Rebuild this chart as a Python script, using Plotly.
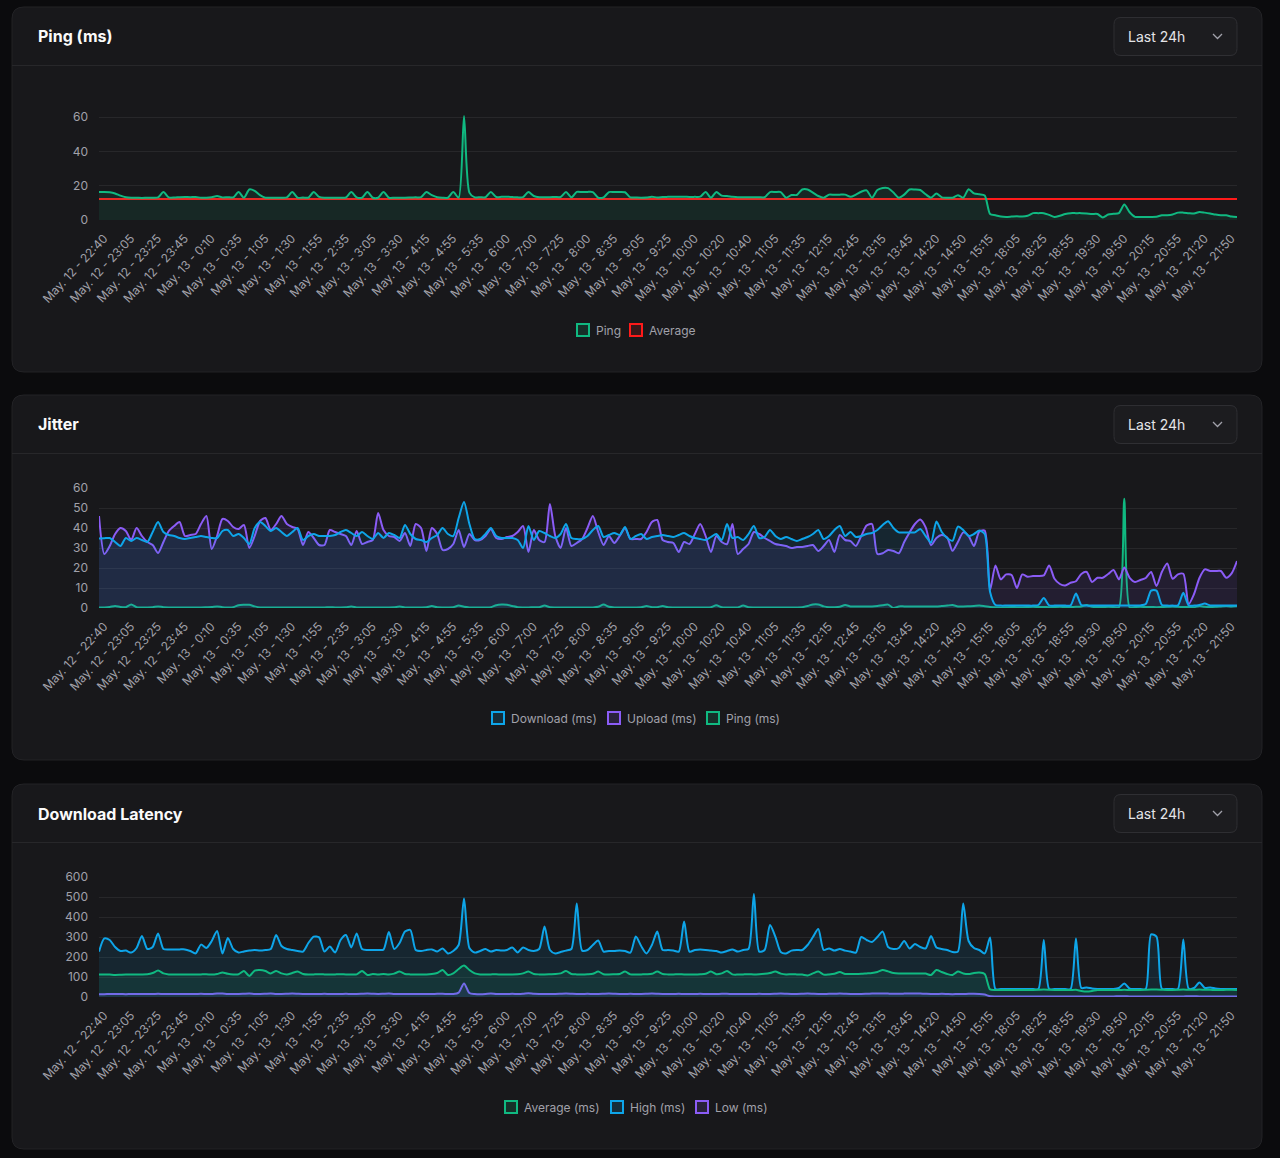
"""
Speedtest dashboard panels: ping, jitter and download latency over the last 24h
"""

import plotly.graph_objects as go

W, H = 1280, 1158

# x axis labels, one every LABEL_STEP measurements
TIME_LABELS = [
    "May. 12 - 22:40", "May. 12 - 23:05", "May. 12 - 23:25", "May. 12 - 23:45",
    "May. 13 - 0:10", "May. 13 - 0:35", "May. 13 - 1:05", "May. 13 - 1:30",
    "May. 13 - 1:55", "May. 13 - 2:35", "May. 13 - 3:05", "May. 13 - 3:30",
    "May. 13 - 4:15", "May. 13 - 4:55", "May. 13 - 5:35", "May. 13 - 6:00",
    "May. 13 - 7:00", "May. 13 - 7:25", "May. 13 - 8:00", "May. 13 - 8:35",
    "May. 13 - 9:05", "May. 13 - 9:25", "May. 13 - 10:00", "May. 13 - 10:20",
    "May. 13 - 10:40", "May. 13 - 11:05", "May. 13 - 11:35", "May. 13 - 12:15",
    "May. 13 - 12:45", "May. 13 - 13:15", "May. 13 - 13:45", "May. 13 - 14:20",
    "May. 13 - 14:50", "May. 13 - 15:15", "May. 13 - 18:05", "May. 13 - 18:25",
    "May. 13 - 18:55", "May. 13 - 19:30", "May. 13 - 19:50", "May. 13 - 20:15",
    "May. 13 - 20:55", "May. 13 - 21:20", "May. 13 - 21:50",
]
LABEL_STEP = 5

PING_MS = [
    16.3, 16.4, 16.2, 15.5, 14.2, 13.3, 13.0, 13.0, 12.9, 13.0,
    13.0, 13.2, 16.3, 13.2, 13.1, 13.3, 13.4, 13.3, 13.4, 13.0,
    13.0, 13.3, 14.0, 13.2, 13.3, 13.2, 16.3, 13.0, 17.8, 17.0,
    14.5, 13.0, 13.0, 13.0, 13.0, 13.2, 16.3, 13.0, 13.1, 13.0,
    16.3, 13.5, 13.0, 13.0, 13.0, 13.0, 13.1, 16.3, 13.2, 13.0,
    16.3, 13.0, 13.0, 16.3, 13.0, 13.0, 13.0, 13.0, 13.1, 13.2,
    13.3, 16.3, 14.5, 13.3, 13.0, 13.0, 16.3, 13.0, 60.7, 16.0,
    13.2, 13.3, 13.3, 16.3, 13.4, 13.5, 13.6, 13.4, 13.2, 13.3,
    16.3, 14.0, 13.3, 13.3, 13.3, 13.4, 13.4, 16.3, 13.2, 16.4,
    16.3, 16.4, 16.3, 13.0, 13.2, 16.3, 16.3, 16.4, 16.2, 13.2,
    13.1, 13.0, 13.1, 13.6, 13.1, 13.4, 13.5, 13.6, 13.5, 13.6,
    13.4, 13.5, 13.6, 16.3, 13.0, 16.3, 14.2, 14.0, 13.6, 13.3,
    13.3, 13.3, 13.3, 13.3, 13.3, 16.3, 16.3, 16.3, 13.0, 14.6,
    14.6, 17.8, 17.8, 16.0, 14.0, 13.0, 14.8, 14.7, 14.8, 14.8,
    13.5, 14.8, 16.5, 17.3, 13.0, 17.5, 18.7, 18.6, 16.0, 13.0,
    14.8, 17.8, 17.8, 17.5, 15.0, 13.0, 15.4, 13.2, 13.0, 13.0,
    14.5, 13.0, 18.0, 15.5, 15.0, 14.3, 3.5, 2.8, 2.0, 1.8,
    2.0, 2.2, 2.0, 2.5, 4.0, 4.0, 4.0, 3.0, 1.8, 2.5,
    3.5, 4.0, 4.0, 4.0, 3.8, 3.5, 3.5, 1.5, 3.2, 3.6,
    4.0, 9.0, 4.5, 1.8, 1.8, 1.8, 1.8, 1.9, 2.8, 2.8,
    3.2, 4.3, 4.3, 4.0, 3.8, 4.7, 4.3, 3.8, 3.2, 2.8,
    2.8, 2.0, 1.8,
]
PING_AVERAGE = 12.2

JITTER_DOWNLOAD = [
    34.8, 34.9, 35.0, 33.0, 31.0, 35.0, 33.5, 35.0, 34.0, 33.0,
    38.0, 43.0, 38.0, 36.5, 36.0, 35.0, 34.5, 35.0, 35.5, 36.0,
    35.5, 35.0, 35.0, 38.5, 39.0, 36.0, 37.0, 35.0, 32.0, 40.0,
    43.0, 41.0, 38.5, 40.0, 38.0, 36.0, 38.0, 40.0, 34.0, 36.0,
    37.0, 36.0, 36.0, 36.0, 36.5, 38.0, 39.0, 37.5, 36.0, 38.0,
    36.0, 34.5, 37.5, 35.0, 37.5, 36.5, 35.0, 41.5, 37.0, 34.5,
    34.0, 33.0, 35.0, 36.5, 40.0, 37.0, 36.0, 45.0, 53.0, 42.0,
    34.5, 34.5, 37.0, 40.0, 36.0, 35.0, 35.0, 35.0, 34.0, 30.0,
    41.0, 34.0, 38.5, 37.5, 36.0, 35.0, 37.0, 42.0, 35.0, 34.5,
    34.5, 36.0, 39.0, 41.0, 35.5, 36.5, 37.5, 36.5, 40.5, 34.5,
    36.0, 37.0, 34.5, 35.5, 36.0, 36.5, 36.0, 35.5, 36.5, 37.5,
    36.0, 35.0, 34.5, 34.0, 35.5, 37.0, 34.0, 42.0, 35.0, 35.5,
    34.0, 37.0, 41.0, 35.0, 35.5, 39.0, 36.0, 34.5, 35.5, 34.5,
    33.5, 34.5, 35.5, 37.0, 39.0, 34.5, 36.0, 39.0, 41.0, 36.0,
    38.0, 35.5, 36.0, 37.0, 37.5, 39.0, 41.5, 43.4, 40.0, 37.8,
    37.8, 37.8, 37.8, 39.5, 36.0, 32.8, 43.2, 38.0, 35.0, 33.6,
    40.7, 39.0, 36.0, 37.0, 38.7, 37.0, 8.0, 1.5, 1.2, 1.2,
    1.2, 1.2, 1.2, 1.2, 1.2, 1.5, 5.0, 1.3, 1.2, 1.2,
    1.2, 1.3, 7.2, 1.5, 1.2, 1.2, 1.2, 1.3, 1.2, 1.2,
    1.2, 1.3, 1.2, 1.2, 1.3, 2.0, 8.7, 8.7, 1.5, 1.2,
    1.2, 1.3, 7.6, 1.3, 1.2, 1.5, 2.2, 1.3, 1.2, 1.2,
    1.2, 1.3, 1.2,
]

JITTER_UPLOAD = [
    46.0, 27.0, 31.0, 37.0, 40.0, 38.5, 34.0, 40.0, 36.0, 33.0,
    31.5, 27.5, 33.0, 38.5, 41.0, 43.0, 36.0, 36.5, 37.0, 42.0,
    46.0, 29.5, 36.0, 44.5, 43.5, 40.5, 39.5, 41.5, 30.0, 36.0,
    43.5, 45.0, 39.0, 42.0, 46.0, 42.0, 40.5, 39.5, 31.5, 38.0,
    35.0, 31.5, 31.5, 39.0, 38.0, 37.0, 36.0, 31.5, 38.5, 32.0,
    33.0, 34.0, 47.5, 39.0, 36.0, 35.5, 33.5, 37.5, 31.0, 42.0,
    40.0, 28.5, 40.0, 37.0, 29.0, 29.5, 32.0, 39.0, 30.5, 37.0,
    34.0, 34.0, 36.0, 39.5, 35.0, 34.5, 35.5, 36.0, 38.0, 41.0,
    28.0, 39.0, 34.0, 33.0, 52.0, 36.0, 30.0, 40.0, 31.0, 32.5,
    34.5, 40.0, 46.0, 38.0, 31.5, 36.0, 32.5, 36.0, 40.0, 34.5,
    34.5, 34.5, 38.0, 43.0, 44.0, 34.0, 33.0, 32.5, 28.0, 33.0,
    32.0, 37.0, 42.0, 36.0, 28.0, 36.0, 33.0, 32.0, 42.0, 27.0,
    29.5, 32.0, 38.0, 37.0, 35.0, 33.5, 32.0, 31.5, 31.0, 30.0,
    30.5, 30.5, 31.0, 31.5, 28.5, 31.0, 34.0, 28.0, 36.5, 34.0,
    33.4, 31.0, 36.0, 41.2, 42.0, 27.0, 27.4, 29.0, 28.5, 27.4,
    33.0, 37.8, 42.0, 44.2, 40.3, 31.4, 35.0, 36.5, 35.3, 28.6,
    33.0, 37.8, 36.0, 31.0, 38.2, 38.7, 9.0, 21.3, 14.3, 16.8,
    16.5, 10.0, 16.8, 15.6, 16.0, 16.0, 16.3, 21.3, 14.6, 12.0,
    11.3, 12.6, 13.4, 17.0, 18.0, 13.0, 15.1, 15.1, 17.0, 19.0,
    14.3, 20.2, 15.1, 13.0, 14.0, 15.0, 18.0, 11.0, 18.0, 22.2,
    14.6, 16.8, 17.1, 2.0, 7.0, 15.0, 19.3, 18.5, 18.5, 18.5,
    15.1, 17.3, 23.5,
]

JITTER_PING = [
    0.3, 0.3, 0.5, 1.0, 0.5, 0.4, 1.8, 0.4, 0.3, 0.3,
    0.4, 0.8, 0.4, 0.3, 0.3, 0.3, 0.3, 0.3, 0.3, 0.3,
    0.4, 0.5, 0.8, 0.4, 0.3, 0.4, 1.4, 1.6, 1.6, 0.8,
    0.3, 0.3, 0.3, 0.3, 0.3, 0.3, 0.3, 0.3, 0.3, 0.3,
    0.3, 0.3, 0.3, 0.4, 0.3, 0.3, 0.4, 0.7, 0.3, 0.3,
    0.3, 0.3, 0.3, 0.3, 0.3, 0.4, 0.7, 0.3, 0.3, 0.3,
    0.3, 0.4, 1.0, 0.4, 0.3, 0.3, 0.4, 1.2, 0.6, 0.3,
    0.3, 0.3, 0.3, 0.4, 1.4, 1.7, 1.6, 1.0, 0.4, 0.3,
    0.3, 0.4, 0.4, 1.2, 0.4, 0.3, 0.3, 0.3, 0.3, 0.3,
    0.3, 0.3, 0.3, 0.6, 1.7, 0.6, 0.3, 0.3, 0.3, 0.3,
    0.3, 0.4, 1.0, 0.4, 0.4, 1.0, 0.4, 0.3, 0.3, 0.3,
    0.3, 0.3, 0.3, 0.3, 0.4, 1.4, 0.4, 0.3, 0.3, 0.3,
    1.2, 0.4, 0.3, 0.3, 0.3, 0.3, 0.3, 0.3, 0.3, 0.3,
    0.3, 0.4, 1.0, 1.8, 1.8, 0.8, 0.4, 0.4, 0.6, 1.5,
    0.8, 0.8, 0.8, 0.8, 0.8, 1.0, 1.4, 1.7, 0.0, 0.8,
    0.8, 0.8, 0.8, 0.8, 0.8, 0.8, 0.8, 1.0, 1.2, 1.5,
    0.8, 0.8, 0.9, 1.0, 1.2, 0.9, 0.5, 0.4, 0.3, 0.4,
    0.5, 0.4, 0.4, 0.5, 0.6, 0.5, 0.5, 0.4, 0.5, 0.6,
    0.5, 0.5, 0.6, 0.8, 1.5, 0.6, 0.5, 0.5, 0.6, 0.5,
    0.4, 54.6, 0.4, 0.5, 0.6, 0.5, 0.5, 0.4, 0.5, 0.6,
    0.8, 0.6, 0.5, 0.5, 0.4, 1.0, 0.6, 0.5, 0.6, 0.8,
    1.0, 0.8, 1.0,
]

LATENCY_AVERAGE = [
    113, 113, 112, 110, 111, 112, 112, 113, 113, 114,
    120, 132, 118, 113, 113, 112, 113, 113, 112, 113,
    114, 112, 115, 123, 116, 113, 114, 130, 105, 132,
    135, 130, 118, 130, 118, 113, 120, 127, 115, 112,
    113, 114, 113, 112, 113, 114, 113, 113, 113, 130,
    110, 115, 113, 115, 113, 117, 127, 115, 113, 112,
    113, 113, 115, 120, 135, 110, 118, 140, 157, 135,
    118, 113, 112, 113, 114, 112, 113, 113, 114, 118,
    127, 115, 113, 113, 114, 115, 118, 130, 115, 113,
    113, 114, 116, 127, 114, 113, 114, 115, 127, 113,
    112, 113, 114, 116, 127, 115, 113, 113, 114, 113,
    113, 113, 114, 116, 127, 114, 118, 130, 113, 112,
    113, 114, 113, 114, 116, 120, 127, 117, 113, 114,
    113, 112, 108, 118, 127, 112, 113, 116, 125, 115,
    115, 115, 116, 118, 120, 125, 135, 128, 120, 118,
    118, 118, 118, 118, 117, 110, 135, 125, 115, 110,
    127, 118, 115, 120, 122, 115, 38, 35, 35, 35,
    35, 35, 35, 35, 35, 36, 37, 36, 35, 35,
    35, 35, 36, 30, 27, 30, 35, 35, 35, 35,
    35, 36, 35, 35, 35, 36, 37, 37, 36, 35,
    35, 36, 37, 36, 36, 37, 36, 36, 35, 35,
    36, 36, 35,
]

LATENCY_HIGH = [
    227, 293, 285, 250, 230, 232, 222, 245, 305, 240,
    250, 318, 240, 237, 238, 238, 238, 230, 218, 262,
    245, 280, 330, 218, 295, 240, 222, 228, 232, 235,
    232, 235, 240, 310, 255, 240, 235, 230, 227, 270,
    302, 298, 227, 252, 223, 285, 310, 248, 318, 240,
    235, 235, 235, 237, 325, 240, 270, 327, 335, 235,
    230, 235, 238, 227, 243, 218, 230, 260, 493, 245,
    222, 230, 240, 227, 235, 232, 235, 247, 223, 248,
    235, 230, 240, 352, 235, 218, 225, 232, 240, 468,
    232, 235, 260, 282, 227, 230, 230, 232, 230, 222,
    302, 255, 218, 260, 327, 235, 235, 232, 227, 377,
    227, 235, 237, 235, 232, 230, 222, 230, 238, 227,
    235, 240, 515, 227, 235, 360, 302, 225, 218, 232,
    235, 235, 260, 300, 340, 235, 243, 232, 240, 232,
    227, 222, 300, 285, 275, 300, 327, 250, 240, 245,
    280, 243, 265, 250, 243, 305, 248, 240, 235, 225,
    227, 468, 280, 245, 235, 218, 297, 40, 40, 40,
    40, 40, 40, 40, 40, 40, 285, 40, 40, 40,
    40, 40, 293, 45, 48, 42, 40, 40, 40, 40,
    45, 68, 42, 40, 40, 40, 313, 302, 42, 40,
    40, 40, 288, 42, 45, 73, 45, 48, 42, 40,
    40, 40, 40,
]

LATENCY_LOW = [
    14, 14, 15, 15, 15, 14, 15, 15, 15, 15,
    15, 16, 15, 15, 15, 15, 15, 15, 15, 16,
    15, 15, 18, 17, 15, 15, 15, 16, 17, 15,
    15, 16, 17, 15, 15, 16, 17, 16, 15, 15,
    15, 15, 16, 15, 15, 15, 16, 15, 15, 16,
    17, 16, 15, 16, 17, 15, 15, 15, 15, 15,
    15, 15, 15, 16, 16, 15, 15, 22, 68, 20,
    15, 14, 15, 17, 15, 15, 15, 16, 15, 16,
    19, 16, 15, 15, 15, 15, 16, 17, 16, 15,
    15, 16, 15, 15, 16, 17, 16, 15, 15, 16,
    15, 15, 16, 17, 16, 15, 15, 15, 16, 15,
    15, 15, 16, 15, 15, 15, 16, 16, 15, 15,
    15, 15, 15, 16, 15, 15, 16, 17, 16, 15,
    15, 16, 17, 16, 15, 15, 16, 16, 17, 16,
    15, 15, 15, 16, 17, 18, 18, 17, 16, 16,
    17, 18, 18, 17, 16, 15, 15, 16, 15, 14,
    15, 15, 16, 16, 15, 12, 4, 3, 3, 3,
    3, 3, 3, 3, 3, 3, 3, 3, 3, 3,
    3, 3, 3, 3, 3, 3, 3, 3, 3, 3,
    4, 4, 3, 3, 3, 3, 3, 3, 3, 3,
    3, 3, 3, 4, 4, 3, 3, 3, 3, 3,
    3, 3, 3,
]

# colours
PAGE_BG = "#0b0b0d"
CARD_BG = "#18181b"
CARD_BORDER = "#232326"
GRID = "#27272a"
TICK_COLOR = "#a1a1aa"
GREEN = "#10b981"
BLUE = "#0ea5e9"
PURPLE = "#8b5cf6"
RED = "#ff1a1a"
FONT = "Inter"

CARD_TOPS = [7, 395, 784]
CARD_HEIGHT = 365
PLOT_LEFT, PLOT_RIGHT = 99, 1237


def fx(px):
    return px / W


def fy(py):
    return 1 - py / H


def rgba(hex_color, alpha):
    h = hex_color.lstrip("#")
    r, g, b = int(h[0:2], 16), int(h[2:4], 16), int(h[4:6], 16)
    return f"rgba({r},{g},{b},{alpha})"


def rounded_rect(x0, y0, x1, y1, r):
    """SVG path in paper coords for a rounded rectangle given in pixels"""
    pts = [
        ("M", (x0 + r, y0)), ("L", (x1 - r, y0)), ("Q", (x1, y0), (x1, y0 + r)),
        ("L", (x1, y1 - r)), ("Q", (x1, y1), (x1 - r, y1)),
        ("L", (x0 + r, y1)), ("Q", (x0, y1), (x0, y1 - r)),
        ("L", (x0, y0 + r)), ("Q", (x0, y0), (x0 + r, y0)),
    ]
    out = []
    for seg in pts:
        cmd = seg[0]
        coords = " ".join(f"{fx(p[0]):.5f},{fy(p[1]):.5f}" for p in seg[1:])
        out.append(f"{cmd}{coords}")
    return " ".join(out) + " Z"


points = list(range(len(PING_MS)))
tick_vals = [i * LABEL_STEP for i in range(len(TIME_LABELS))]

panels = [
    {
        "title": "Ping (ms)",
        "range": [0, 70],
        "ticks": [0, 20, 40, 60],
        "series": [
            ("Average", [PING_AVERAGE] * len(points), RED, False),
            ("Ping", PING_MS, GREEN, True),
        ],
        "legend": [("Ping", GREEN, 577), ("Average", RED, 630)],
    },
    {
        "title": "Jitter",
        "range": [0, 60],
        "ticks": [0, 10, 20, 30, 40, 50, 60],
        "series": [
            ("Ping (ms)", JITTER_PING, GREEN, True),
            ("Upload (ms)", JITTER_UPLOAD, PURPLE, True),
            ("Download (ms)", JITTER_DOWNLOAD, BLUE, True),
        ],
        "legend": [("Download (ms)", BLUE, 492), ("Upload (ms)", PURPLE, 608),
                   ("Ping (ms)", GREEN, 707)],
    },
    {
        "title": "Download Latency",
        "range": [0, 600],
        "ticks": [0, 100, 200, 300, 400, 500, 600],
        "series": [
            ("Low (ms)", LATENCY_LOW, PURPLE, True),
            ("High (ms)", LATENCY_HIGH, BLUE, True),
            ("Average (ms)", LATENCY_AVERAGE, GREEN, True),
        ],
        "legend": [("Average (ms)", GREEN, 505), ("High (ms)", BLUE, 611),
                   ("Low (ms)", PURPLE, 696)],
    },
]

fig = go.Figure()
shapes = []
annotations = []
layout_axes = {}

for n, (panel, top) in enumerate(zip(panels, CARD_TOPS), start=1):
    suffix = "" if n == 1 else str(n)
    xref, yref = f"x{suffix}", f"y{suffix}"

    # card background, header separator, dropdown
    shapes.append(dict(type="path", path=rounded_rect(12, top, 1262, top + CARD_HEIGHT, 12),
                       xref="paper", yref="paper", fillcolor=CARD_BG,
                       line=dict(color=CARD_BORDER, width=1), layer="below"))
    shapes.append(dict(type="line", xref="paper", yref="paper",
                       x0=fx(12), x1=fx(1262), y0=fy(top + 58.5), y1=fy(top + 58.5),
                       line=dict(color=GRID, width=1), layer="below"))
    shapes.append(dict(type="path", path=rounded_rect(1114, top + 10.5, 1237, top + 48.5, 7),
                       xref="paper", yref="paper", fillcolor="#1c1c1f",
                       line=dict(color="#2f2f33", width=1), layer="below"))
    cy = top + 29.5
    shapes.append(dict(type="path", xref="paper", yref="paper",
                       path=f"M{fx(1213):.5f},{fy(cy - 2.5):.5f} L{fx(1217.5):.5f},{fy(cy + 2):.5f} "
                            f"L{fx(1222):.5f},{fy(cy - 2.5):.5f}",
                       line=dict(color=TICK_COLOR, width=1.3), layer="above"))
    annotations.append(dict(text=f"<b>{panel['title']}</b>", x=fx(36), y=fy(top + 29.5),
                            xref="paper", yref="paper", xanchor="left", yanchor="middle",
                            showarrow=False, font=dict(family=FONT, size=16, color="#fafafa")))
    annotations.append(dict(text="Last 24h", x=fx(1126), y=fy(top + 29.5),
                            xref="paper", yref="paper", xanchor="left", yanchor="middle",
                            showarrow=False, font=dict(family=FONT, size=14, color="#e4e4e7")))

    # legend boxes
    ly = top + 323
    for name, color, left in panel["legend"]:
        shapes.append(dict(type="rect", xref="paper", yref="paper",
                           x0=fx(left), x1=fx(left + 12), y0=fy(ly - 6), y1=fy(ly + 6),
                           fillcolor=rgba(color, 0.15), line=dict(color=color, width=2)))
        annotations.append(dict(text=name, x=fx(left + 17), y=fy(ly),
                                xref="paper", yref="paper", xanchor="left", yanchor="middle",
                                showarrow=False, font=dict(family=FONT, size=12, color=TICK_COLOR)))

    for name, values, color, filled in panel["series"]:
        fig.add_trace(go.Scatter(
            x=points, y=values, name=name, mode="lines",
            line=dict(color=color, width=2, shape="spline", smoothing=0.7),
            fill="tozeroy" if filled else None,
            fillcolor=rgba(color, 0.1) if filled else None,
            xaxis=xref, yaxis=yref, showlegend=False,
        ))

    layout_axes[f"xaxis{suffix}"] = dict(
        domain=[fx(PLOT_LEFT), fx(PLOT_RIGHT)], range=[0, len(points) - 1],
        anchor=yref, tickmode="array", tickvals=tick_vals, ticktext=TIME_LABELS,
        tickangle=-47, tickfont=dict(family=FONT, size=12, color=TICK_COLOR),
        showgrid=False, zeroline=False, showline=False, ticks="", automargin=False,
        ticklabelstandoff=8, ticklabelshift=5,
    )
    layout_axes[f"yaxis{suffix}"] = dict(
        domain=[fy(top + 213), fy(top + 93)], range=panel["range"], anchor=xref,
        tickmode="array", tickvals=panel["ticks"],
        tickfont=dict(family=FONT, size=12, color=TICK_COLOR),
        gridcolor=GRID, gridwidth=1, zeroline=False, showline=False, ticks="",
        ticklabelstandoff=10, automargin=False,
    )

fig.update_layout(
    width=W, height=H,
    margin=dict(l=0, r=0, t=0, b=0, pad=0),
    paper_bgcolor=PAGE_BG, plot_bgcolor="rgba(0,0,0,0)",
    font=dict(family=FONT, color=TICK_COLOR),
    showlegend=False,
    shapes=shapes, annotations=annotations,
    **layout_axes,
)

fig.write_html("out.html", config={"displayModeBar": False},
               post_script="document.body.style.margin='0';"
               "document.body.style.background='" + PAGE_BG + "';")
